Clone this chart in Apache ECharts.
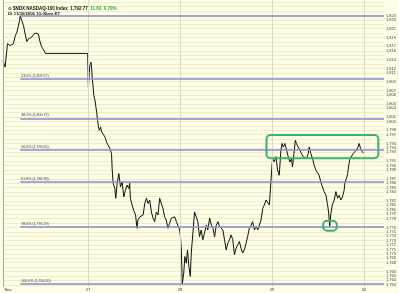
<!DOCTYPE html>
<html>
<head>
<meta charset="utf-8">
<script src="https://cdn.jsdelivr.net/npm/echarts@6/dist/echarts.min.js"></script>
<style>html,body{margin:0;padding:0;background:#FEFDE6;}#c{width:399px;height:293px;}</style>
</head>
<body>
<div id="c"></div>
<script>
// x = trading minutes counted from the Nov 24, 2006 open (390 minutes per session)
const dayTicks = [30, 390, 780, 1170, 1560];
const dayLabels = ['Nov', '27', '28', '29', '30'];

// NASDAQ-100 intraday prices [minute, price]
const nov24 = [[30,1813.8],[39,1812.3],[49,1817.6],[60,1817.2],[68,1816.8],[74,1817.6],[82,1819.4],[89,1820.2],[95,1819.8],[100,1822.8],[103,1823.9],[110,1822.8],[117,1821.7],[124,1819.8],[131,1818.1],[138,1818.7],[145,1818.3],[152,1819.1],[159,1819.7],[170,1820.0],[180,1819.8],[187,1818.0],[194,1816.9],[201,1816.3],[210,1815.4],[389,1815.4]];
const nov27 = [[392,1807.8],[396,1811.1],[398,1812.7],[403,1813.4],[406,1811.9],[408,1810.0],[412,1807.8],[415,1805.9],[420,1804.8],[424,1803.2],[427,1802.1],[431,1800.2],[434,1799.1],[438,1798.0],[444,1798.7],[448,1797.6],[455,1798.0],[462,1796.5],[469,1795.3],[476,1795.7],[483,1793.9],[490,1792.7],[493,1789.0],[497,1786.0],[504,1784.8],[508,1782.6],[514,1786.0],[521,1788.2],[528,1785.2],[535,1786.3],[542,1782.9],[549,1784.4],[556,1785.6],[563,1784.8],[567,1786.0],[570,1782.6],[577,1781.1],[584,1779.9],[592,1778.8],[598,1775.8],[602,1777.7],[610,1778.4],[617,1778.1],[624,1778.8],[631,1781.4],[638,1782.6],[645,1781.4],[652,1782.2],[659,1779.5],[666,1778.1],[673,1777.3],[680,1779.5],[687,1778.8],[694,1782.6],[701,1781.4],[708,1780.3],[715,1778.4],[722,1777.7],[729,1775.8],[736,1776.9],[744,1778.1],[750,1777.7],[758,1778.4],[765,1777.3],[771,1776.5],[779,1775.4]];
const nov28 = [[783,1773.5],[786,1770.9],[788,1767.1],[790,1763.2],[796,1765.6],[801,1769.4],[807,1767.9],[812,1770.9],[818,1767.1],[824,1764.9],[828,1770.2],[835,1774.7],[842,1779.5],[849,1778.4],[856,1777.3],[863,1773.9],[870,1775.4],[877,1773.2],[884,1774.7],[892,1776.5],[898,1775.4],[906,1778.1],[913,1776.5],[919,1776.0],[927,1773.9],[934,1776.5],[941,1777.3],[948,1776.2],[955,1776.5],[962,1775.4],[969,1773.2],[976,1770.9],[983,1772.4],[990,1773.2],[997,1774.3],[1004,1773.2],[1011,1769.8],[1018,1771.3],[1025,1770.9],[1032,1772.8],[1039,1771.3],[1046,1770.2],[1053,1770.9],[1060,1772.4],[1067,1773.9],[1074,1775.8],[1082,1776.5],[1088,1777.3],[1096,1775.4],[1103,1776.2],[1110,1775.4],[1117,1775.8],[1124,1777.7],[1131,1780.3],[1138,1781.1],[1145,1782.2],[1152,1781.8],[1159,1781.1]];
const nov29 = [[1171,1790.5],[1173,1791.6],[1180,1790.8],[1187,1792.0],[1194,1789.0],[1201,1787.8],[1208,1793.5],[1213,1795.0],[1218,1794.2],[1225,1795.0],[1232,1793.5],[1239,1792.0],[1246,1790.8],[1253,1791.6],[1257,1789.7],[1265,1793.5],[1269,1795.7],[1274,1795.0],[1281,1794.2],[1289,1793.5],[1295,1792.7],[1303,1792.0],[1310,1792.3],[1316,1791.6],[1324,1792.7],[1328,1794.2],[1335,1792.7],[1342,1791.6],[1349,1790.1],[1356,1789.0],[1363,1789.4],[1370,1787.8],[1377,1786.3],[1384,1785.2],[1391,1784.1],[1399,1783.3],[1405,1781.4],[1410,1779.5],[1415,1776.3],[1420,1779.2],[1426,1781.1],[1434,1782.2],[1441,1784.1],[1448,1782.6],[1455,1783.3],[1462,1782.2],[1469,1782.9],[1476,1784.4],[1480,1786.3],[1486,1787.1],[1491,1788.2],[1497,1790.5],[1501,1791.6],[1507,1792.0],[1514,1792.7],[1521,1793.1],[1528,1793.5],[1535,1794.2],[1539,1795.0],[1546,1793.9],[1553,1793.1],[1559,1792.77]];

// Fibonacci retracement (drawn from the swing high to the right edge)
const fibStart = 103;
const fibNames = ['0.0%', '23.6%', '38.2%', '50.0%', '61.8%', '78.6%', '100.0%'];
const fibLevels = [1823.90, 1809.57, 1800.71, 1793.55, 1786.39, 1776.19, 1763.20];

// Highlight boxes [xStart, xEnd, priceLow, priceHigh]
const boxes = [[1147, 1621, 1791.65, 1796.9], [1387, 1445, 1775.25, 1777.5]];

// right-axis labels shown
const yTickValues = [1763,1764,1765,1766,1768,1769,1770,1771,1772,1773,1774,1775,1776,1778,1779,1780,1781,1782,1784,1785,1786,1787,1789,1790,1791,1793,1794,1795,1797,1798,1800,1801,1803,1804,1806,1807,1809,1811,1812,1814,1816,1817,1819,1821,1823,1824];

const X_MIN = 30, X_MAX = 1645;
const fmt = v => v.toLocaleString('en-US', {minimumFractionDigits: 2, maximumFractionDigits: 2});

const chart = echarts.init(document.getElementById('c'), null, {renderer: 'canvas'});

const fibLines = fibLevels.map((v, i) => [
  {coord: [fibStart, v], lineStyle: {color: '#8A8AD0', width: 1.6, type: 'solid'},
   label: {show: i > 0, position: 'insideStartTop', distance: 1, formatter: fibNames[i] + ' (' + fmt(v) + ')',
           fontSize: 3.6, color: '#333355', fontFamily: 'Liberation Sans'}},
  {coord: [X_MAX, v]}
]);
const dayLines = dayTicks.slice(1).map(t => ({xAxis: t, lineStyle: {color: '#D9D9CC', width: 1, type: 'solid'}, label: {show: false}}));
dayLines.push({xAxis: X_MIN, lineStyle: {color: '#A8A8A0', width: 1, type: 'solid'}, label: {show: false}});

chart.setOption({
  backgroundColor: '#FEFDE6',
  animation: false,
  title: {
    left: 3, top: 1, itemGap: 1,
    text: '{i|⊙} {b|$NDX NASDAQ-100 Index}  {b|1,792.77}  {g|11.63  0.70%}',
    textStyle: {
      fontSize: 4.5, fontFamily: 'Liberation Sans', fontWeight: 'bold', color: '#111',
      rich: {
        i: {fontSize: 4.5, color: '#333', fontFamily: 'DejaVu Sans'},
        b: {fontSize: 4.5, fontWeight: 'bold', color: '#111', fontFamily: 'Liberation Sans'},
        g: {fontSize: 4.5, fontWeight: 'bold', color: '#2FAA3A', fontFamily: 'Liberation Sans'}
      }
    },
    subtext: 'Dt 11/30/2006 10:05am ET',
    subtextStyle: {fontSize: 4.3, fontFamily: 'Liberation Sans', fontWeight: 'bold', color: '#222'}
  },
  grid: {left: 3, right: 14, top: 0, bottom: 6},
  xAxis: {
    type: 'value', min: X_MIN, max: X_MAX,
    axisLine: {show: false}, axisTick: {show: false}, splitLine: {show: false},
    axisLabel: {
      customValues: dayTicks, margin: 1, fontSize: 4, color: '#333', fontFamily: 'Liberation Sans',
      formatter: v => { const i = dayTicks.indexOf(v); return i < 0 ? '' : (i === 0 ? '{n|' + dayLabels[i] + '}' : dayLabels[i]); },
      rich: {n: {fontSize: 4, color: '#333', fontFamily: 'Liberation Sans', padding: [0, 0, 0, 10]}}
    }
  },
  yAxis: {
    type: 'value', position: 'right', min: 1762.5, max: 1827.5, interval: 0.5, scale: true,
    axisLine: {show: false}, axisTick: {show: false},
    splitLine: {show: true, lineStyle: {color: ['rgba(0,0,0,0)', '#F1EBC9'], width: 1}},
    axisLabel: {
      margin: 2, fontSize: 4, color: '#444', fontFamily: 'Liberation Sans',
      formatter: v => yTickValues.includes(v) ? v.toLocaleString('en-US') : ''
    }
  },
  series: [
    {
      type: 'line', name: 'NDX', showSymbol: false, symbol: 'none',
      data: nov24.concat(nov27, nov28, nov29),
      lineStyle: {color: '#111', width: 1},
      z: 3,
      markLine: {
        silent: true, symbol: ['none', 'none'], animation: false,
        data: dayLines.concat(fibLines)
      }
    },
    {
      type: 'custom', name: 'boxes', z: 5,
      dimensions: ['x0', 'x1', 'y0', 'y1'],
      encode: {x: [0, 1], y: [2, 3]},
      data: boxes,
      renderItem: (params, api) => {
        const p0 = api.coord([api.value(0), api.value(3)]);
        const p1 = api.coord([api.value(1), api.value(2)]);
        return {type: 'rect', shape: {x: p0[0], y: p0[1], width: p1[0] - p0[0], height: p1[1] - p0[1], r: 4},
                style: {fill: 'none', stroke: '#3DB36A', lineWidth: 2}};
      }
    }
  ]
});
</script>
</body>
</html>
